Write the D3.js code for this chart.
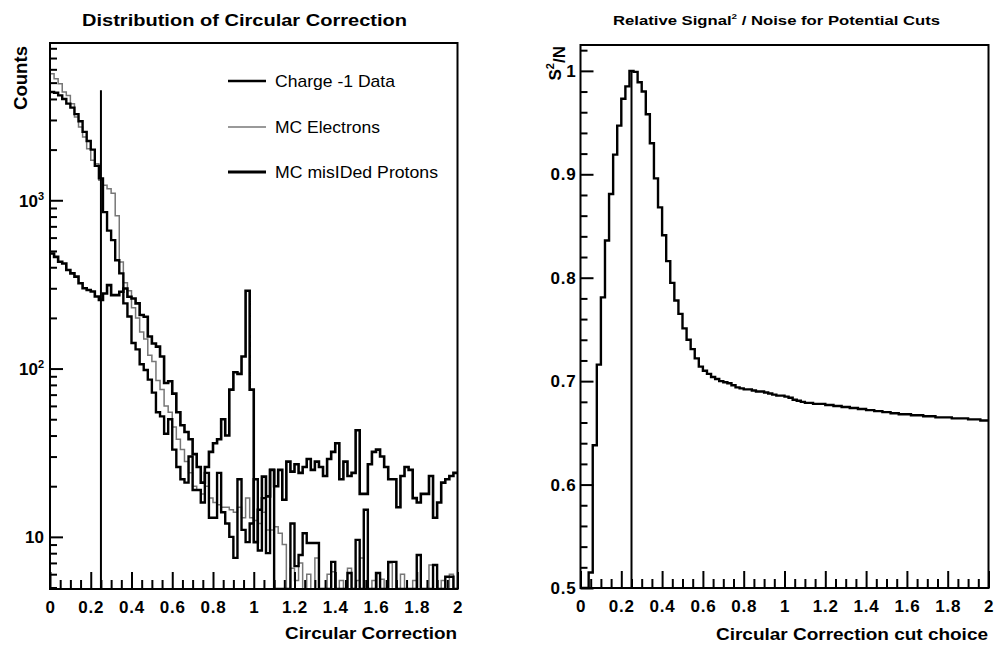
<!DOCTYPE html>
<html><head><meta charset="utf-8">
<script src="https://cdn.jsdelivr.net/npm/d3@7"></script>
<style>
body{margin:0;background:#fff}
text{font-family:"Liberation Sans",Arial,Helvetica,sans-serif}
</style>
</head><body>
<svg id="c" width="994" height="645"></svg>
<script>
// ---------------- data ----------------
const binLow = 0, binHigh = 2, nBins = 100;
const xTickValues = [0, 0.2, 0.4, 0.6, 0.8, 1, 1.2, 1.4, 1.6, 1.8, 2];
const xTickLabels = ["0", "0.2", "0.4", "0.6", "0.8", "1", "1.2", "1.4", "1.6", "1.8", "2"];
const leftYTickValues = [10, 100, 1000];
const leftYTickBase = ["10", "10", "10"];
const leftYTickExp = ["", "2", "3"];
const rightYTickValues = [0.5, 0.6, 0.7, 0.8, 0.9, 1];
const rightYTickLabels = ["0.5", "0.6", "0.7", "0.8", "0.9", "1"];
const cutValue = 0.25;
const cutTopLeft = 4500;
const cutTopRight = 1.0;

const legendNames = ["Charge -1 Data", "MC Electrons", "MC misIDed Protons"];

const chargeData = [
 4400,4350,4200,4000,3750,3550,3250,2950,2550,2250,
 2000,1600,1350,850,660,580,440,368,244,204,
 142,130,106,98,86,72,55,52,41,50,
 33,26,22,21,30,19,19,16,24,13,
 13,24,14,12,10,7.5,22,11,9.3,12,
 22,8.3,17,8,25,0,4,0,0,12,
 6.7,7.8,10.5,9.2,9.2,9.2,0,0,0,7.1,
 0,0,0,6.1,0,9.6,0,14.5,0,0,
 6.1,0,0,7.1,7.1,0,0,0,0,0,
 7.8,0,0,0,6.8,0,0,5.8,5.8,0
];
const mcElectrons = [
 5650,5270,4930,4400,4200,3750,3125,2725,2380,2025,
 1730,1650,1315,1230,1170,1100,810,430,324,290,
 230,200,165,150,120,110,85,75,60,55,
 45,38,33,28,24,20,19,18,20,17,
 16,15.5,15,15,14.5,14,15,13,17,13,
 12.5,12,14,11,11,11.5,10.5,9,4,6.5,
 5.5,7,4,6,3,7.5,0,0,6,6.2,
 0,5.5,0,6.5,0,5.5,7.5,0,0,5.5,
 0,5.6,0,7,0,0,6,0,0,5.5,
 0,0,0,6.8,0,0,5.5,0,6,0
];
const mcProtons = [
 483,461,431,421,385,368,352,321,300,293,
 287,268,256,279,313,273,273,286,299,267,
 261,244,208,203,155,141,135,118,82,84,
 71,55,46,42,38,31,26,21,26,32,
 36,38,50,40,75,95,93,118,290,75,
 9.3,14.5,22.8,17.4,25,20,25,16.6,28,24.4,
 27,24,26,29,25,28,26,23,29,32,
 36,22,28,23,24,43,18,18,27,32,
 33,30,26,22,22,15,23,26,25,17,
 16,18,18,23,13,16,21,22,23,24
];
const sOverN = [
 0.48,0.49,0.515,0.638,0.716,0.781,0.836,0.881,0.919,0.947,
 0.973,0.985,1.000,0.999,0.989,0.980,0.958,0.930,0.896,0.868,
 0.841,0.816,0.795,0.778,0.765,0.751,0.740,0.731,0.722,0.714,
 0.710,0.707,0.704,0.702,0.700,0.699,0.698,0.696,0.694,0.693,
 0.692,0.692,0.691,0.690,0.690,0.689,0.688,0.687,0.686,0.686,
 0.685,0.684,0.682,0.681,0.680,0.679,0.679,0.678,0.678,0.678,
 0.677,0.677,0.676,0.676,0.675,0.675,0.674,0.674,0.673,0.673,
 0.672,0.672,0.671,0.671,0.670,0.670,0.669,0.669,0.668,0.668,
 0.668,0.667,0.667,0.667,0.666,0.666,0.666,0.665,0.665,0.665,
 0.665,0.664,0.664,0.664,0.664,0.663,0.663,0.663,0.662,0.662
];

// ---------------- drawing ----------------
const svg = d3.select("#c");
const binW = (binHigh - binLow) / nBins;

function stepPoints(vals) {
  const pts = [];
  vals.forEach((v, k) => {
    pts.push([binLow + k * binW, v]);
    pts.push([binLow + (k + 1) * binW, v]);
  });
  return pts;
}

function drawXAxis(g, x, y0) {
  const major = d3.axisBottom(x).tickValues(xTickValues)
    .tickFormat((d, i) => xTickLabels[i]).tickSizeInner(-17).tickSizeOuter(0).tickPadding(12);
  const ga = g.append("g").attr("transform", `translate(0,${y0})`).call(major);
  ga.select(".domain").remove();
  ga.selectAll(".tick line").attr("stroke", "#000").attr("stroke-width", 2);
  ga.selectAll(".tick text").attr("font-size", 17).attr("font-weight", "bold").attr("fill", "#000")
    .attr("letter-spacing", "0.8px");
  const minorVals = d3.range(0, 41).map(i => i * 0.05).filter(v => Math.abs(v / 0.2 - Math.round(v / 0.2)) > 1e-6);
  const minor = d3.axisBottom(x).tickValues(minorVals).tickFormat("").tickSizeInner(-9).tickSizeOuter(0);
  const gm = g.append("g").attr("transform", `translate(0,${y0})`).call(minor);
  gm.select(".domain").remove();
  gm.selectAll(".tick line").attr("stroke", "#000").attr("stroke-width", 2);
}

// ---------- LEFT PANEL ----------
const L = {x0: 50, x1: 457.5, y0: 43, y1: 589};
const xL = d3.scaleLinear().domain([binLow, binHigh]).range([L.x0, L.x1]);
const yL = d3.scaleLog().domain([4.9, 8600]).range([L.y1, L.y0]).clamp(true);

const gL = svg.append("g");
svg.append("defs").html(
  `<clipPath id="clipL"><rect x="${L.x0}" y="${L.y0}" width="${L.x1 - L.x0}" height="${L.y1 - L.y0}"/></clipPath>
   <clipPath id="clipR"><rect x="580.5" y="45" width="408" height="543"/></clipPath>`);

const lineL = d3.line().x(d => xL(d[0])).y(d => yL(Math.max(d[1], 1)));
const plotL = gL.append("g").attr("clip-path", "url(#clipL)");
plotL.append("path").attr("d", lineL(stepPoints(mcElectrons)))
  .attr("fill", "none").attr("stroke", "#777").attr("stroke-width", 1.5);
plotL.append("path").attr("d", lineL(stepPoints(mcProtons)))
  .attr("fill", "none").attr("stroke", "#000").attr("stroke-width", 2.6);
plotL.append("path").attr("d", lineL(stepPoints(chargeData)))
  .attr("fill", "none").attr("stroke", "#000").attr("stroke-width", 2.4);
plotL.append("line").attr("x1", xL(cutValue)).attr("x2", xL(cutValue))
  .attr("y1", L.y1).attr("y2", yL(cutTopLeft)).attr("stroke", "#000").attr("stroke-width", 2);

// left y axis
const yAxL = d3.axisLeft(yL).tickValues(leftYTickValues).tickFormat("").tickSizeInner(-13).tickSizeOuter(0).tickPadding(6);
const gyL = gL.append("g").attr("transform", `translate(${L.x0},0)`).call(yAxL);
gyL.select(".domain").remove();
gyL.selectAll(".tick line").attr("stroke", "#000").attr("stroke-width", 2);
gyL.selectAll(".tick text").each(function (d, i) {
  const t = d3.select(this).attr("font-size", 17).attr("font-weight", "bold").attr("fill", "#000")
    .attr("x", -6).attr("dy", "0.35em").attr("text-anchor", "end");
  t.text(null);
  if (leftYTickExp[i]) {
    t.append("tspan").text(leftYTickBase[i]);
    t.append("tspan").text(leftYTickExp[i]).attr("font-size", 11).attr("dy", "-0.65em");
  } else {
    t.append("tspan").text(leftYTickBase[i]);
  }
});
const minorLog = [];
[1, 10, 100, 1000].forEach(dec => { for (let m = 2; m <= 9; m++) { const v = dec * m; if (v > 4.9 && v < 8600) minorLog.push(v); } });
const gyLm = gL.append("g").attr("transform", `translate(${L.x0},0)`)
  .call(d3.axisLeft(yL).tickValues(minorLog).tickFormat("").tickSizeInner(-7).tickSizeOuter(0));
gyLm.select(".domain").remove();
gyLm.selectAll(".tick line").attr("stroke", "#000").attr("stroke-width", 2);

drawXAxis(gL, xL, L.y1);

gL.append("rect").attr("x", L.x0).attr("y", L.y0).attr("width", L.x1 - L.x0).attr("height", L.y1 - L.y0)
  .attr("fill", "none").attr("stroke", "#000").attr("stroke-width", 2);

// legend
const legY = [81, 127, 172];
const legStyle = [{c: "#000", w: 2.4}, {c: "#777", w: 1.5}, {c: "#000", w: 2.8}];
const legLen = [120, 105, 163];
legendNames.forEach((n, i) => {
  gL.append("line").attr("x1", 228).attr("x2", 266).attr("y1", legY[i]).attr("y2", legY[i])
    .attr("stroke", legStyle[i].c).attr("stroke-width", legStyle[i].w);
  gL.append("text").attr("x", 275).attr("y", legY[i] + 6).attr("font-size", 17)
    .attr("textLength", legLen[i]).attr("lengthAdjust", "spacingAndGlyphs").text(n);
});

// titles & labels
gL.append("text").attr("x", 244.5).attr("y", 26).attr("text-anchor", "middle")
  .attr("font-size", 16.5).attr("font-weight", "bold").attr("textLength", 325).attr("lengthAdjust", "spacingAndGlyphs")
  .text("Distribution of Circular Correction");
gL.append("text").attr("transform", "translate(27,46) rotate(-90)").attr("text-anchor", "end")
  .attr("font-size", 18).attr("font-weight", "bold").attr("textLength", 64).attr("lengthAdjust", "spacingAndGlyphs")
  .text("Counts");
gL.append("text").attr("x", 457).attr("y", 639).attr("text-anchor", "end")
  .attr("font-size", 17).attr("font-weight", "bold").attr("textLength", 172).attr("lengthAdjust", "spacingAndGlyphs")
  .text("Circular Correction");

// ---------- RIGHT PANEL ----------
const R = {x0: 580.5, x1: 988.5, y0: 45, y1: 588};
const xR = d3.scaleLinear().domain([binLow, binHigh]).range([R.x0, R.x1]);
const yR = d3.scaleLinear().domain([0.5, 1.025]).range([R.y1, R.y0]).clamp(true);
const gR = svg.append("g");
const lineR = d3.line().x(d => xR(d[0])).y(d => yR(d[1]));
const plotR = gR.append("g").attr("clip-path", "url(#clipR)");
plotR.append("path").attr("d", lineR(stepPoints(sOverN)))
  .attr("fill", "none").attr("stroke", "#000").attr("stroke-width", 2.4);
plotR.append("line").attr("x1", xR(cutValue)).attr("x2", xR(cutValue))
  .attr("y1", R.y1).attr("y2", yR(cutTopRight)).attr("stroke", "#000").attr("stroke-width", 2);

const yAxR = d3.axisLeft(yR).tickValues(rightYTickValues).tickFormat((d, i) => rightYTickLabels[i])
  .tickSizeInner(-13).tickSizeOuter(0).tickPadding(4);
const gyR = gR.append("g").attr("transform", `translate(${R.x0},0)`).call(yAxR);
gyR.select(".domain").remove();
gyR.selectAll(".tick line").attr("stroke", "#000").attr("stroke-width", 2);
gyR.selectAll(".tick text").attr("font-size", 17).attr("font-weight", "bold").attr("fill", "#000").attr("x", -4)
  .attr("letter-spacing", "0.8px");
const minorR = d3.range(25, 52).map(i => i * 0.02).filter(v => Math.abs(v * 10 - Math.round(v * 10)) > 1e-6 && v <= 1.025);
const gyRm = gR.append("g").attr("transform", `translate(${R.x0},0)`)
  .call(d3.axisLeft(yR).tickValues(minorR).tickFormat("").tickSizeInner(-7).tickSizeOuter(0));
gyRm.select(".domain").remove();
gyRm.selectAll(".tick line").attr("stroke", "#000").attr("stroke-width", 2);

drawXAxis(gR, xR, R.y1);

gR.append("rect").attr("x", R.x0).attr("y", R.y0).attr("width", R.x1 - R.x0).attr("height", R.y1 - R.y0)
  .attr("fill", "none").attr("stroke", "#000").attr("stroke-width", 2);

const tR = gR.append("text").attr("x", 776.5).attr("y", 25).attr("text-anchor", "middle")
  .attr("font-size", 13.5).attr("font-weight", "bold").attr("textLength", 327).attr("lengthAdjust", "spacingAndGlyphs");
tR.append("tspan").text("Relative Signal");
tR.append("tspan").text("2").attr("font-size", 8).attr("dy", "-0.7em");
tR.append("tspan").text(" / Noise for Potential Cuts").attr("dy", "0.45em");

const sN = gR.append("text").attr("transform", "translate(561,46) rotate(-90)").attr("text-anchor", "end")
  .attr("font-size", 17).attr("font-weight", "bold");
sN.append("tspan").text("S");
sN.append("tspan").text("2").attr("font-size", 11).attr("dy", "-0.6em");
sN.append("tspan").text("/N").attr("dy", "0.6em");

gR.append("text").attr("x", 988).attr("y", 640).attr("text-anchor", "end")
  .attr("font-size", 17).attr("font-weight", "bold").attr("textLength", 272).attr("lengthAdjust", "spacingAndGlyphs")
  .text("Circular Correction cut choice");
</script>
</body></html>
